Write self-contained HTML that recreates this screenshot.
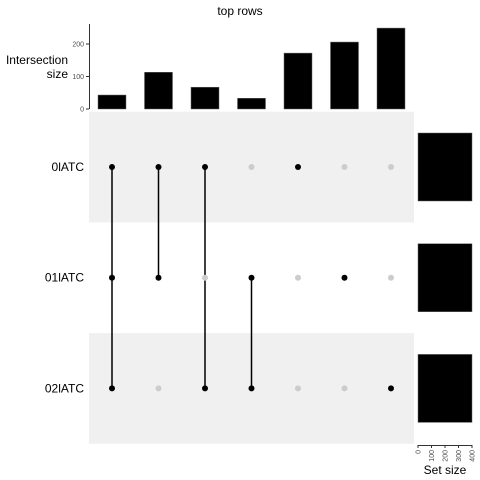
<!DOCTYPE html>
<html><head><meta charset="utf-8"><style>
html,body{margin:0;padding:0;background:#fff;width:480px;height:480px;overflow:hidden}
text{font-family:"Liberation Sans",sans-serif}
</style></head><body>
<svg id="c" width="480" height="480" xmlns="http://www.w3.org/2000/svg"></svg>
<script>
const sets = ["0lATC","01lATC","02lATC"];
const setSizes = [400, 400, 400];
const interSizes = [43, 113, 67, 33, 172, 206, 249];
const memberships = [[0,1,2],[0,1],[0,2],[1,2],[0],[1],[2]];
const yTicks = [0, 100, 200];
const sizeTicks = [0, 100, 200, 300, 400];

const NS="http://www.w3.org/2000/svg";
const svg=document.getElementById('c');
function mk(t,a,p){const e=document.createElementNS(NS,t);for(const k in a)e.setAttribute(k,a[k]);(p||svg).appendChild(e);return e;}
const y=v=>109-v*0.325;
const xc=i=>112+i*46.5;
const ry=j=>167+j*110.7;
const sx=v=>418+v*0.135;

let t=mk('text',{x:240,y:15,'font-size':12,'text-anchor':'middle',fill:'#000'});t.textContent='top rows';


[0,2].forEach(j=>{const r=mk('rect',{x:89,y:ry(j)-55.3,width:325,height:110.7,fill:'#f0f0f0'});
});

let ax=mk('line',{x1:89.5,x2:89.5,y1:24,y2:109,stroke:'#333','stroke-width':1});

yTicks.forEach(v=>{mk('line',{x1:86,x2:89,y1:y(v),y2:y(v),stroke:'#333'});
const l=mk('text',{x:84,y:y(v)+2.5,'font-size':7,'text-anchor':'end',fill:'#4d4d4d'});l.textContent=v;
});
t=mk('text',{x:68,y:64,'font-size':12,'text-anchor':'end',fill:'#000'});t.textContent='Intersection';

t=mk('text',{x:68,y:78,'font-size':12,'text-anchor':'end',fill:'#000'});t.textContent='size';

interSizes.forEach((v,i)=>{const b=mk('rect',{x:xc(i)-14,y:y(v),width:28,height:109-y(v),fill:'#000',stroke:'#666','stroke-width':0.5});
});

memberships.forEach((m,i)=>{
  if(m.length>1){const ln=mk('line',{x1:xc(i),x2:xc(i),y1:ry(Math.min(...m)),y2:ry(Math.max(...m)),stroke:'#000','stroke-width':1.5});
  }
  sets.forEach((s,j)=>{const on=m.includes(j);const d=mk('circle',{cx:xc(i),cy:ry(j),r:3,fill:on?'#000':'#cccccc'});
  });
});
sets.forEach((s,j)=>{const l=mk('text',{x:84,y:ry(j)+4,'font-size':12,'text-anchor':'end',fill:'#000'});l.textContent=s;

const b=mk('rect',{x:sx(0),y:ry(j)-34,width:sx(setSizes[j])-sx(0),height:68,fill:'#000',stroke:'#666','stroke-width':0.5});
});

let ax2=mk('line',{x1:sx(0),x2:sx(400),y1:445.5,y2:445.5,stroke:'#333'});

sizeTicks.forEach(v=>{mk('line',{x1:sx(v),x2:sx(v),y1:445,y2:448,stroke:'#333'});
const l=mk('text',{x:0,y:0,'font-size':7,'text-anchor':'end',fill:'#4d4d4d',transform:`translate(${sx(v)+2.5},450) rotate(-90)`});l.textContent=v;
});
t=mk('text',{x:445,y:474,'font-size':12,'text-anchor':'middle',fill:'#000'});t.textContent='Set size';

</script>
</body></html>
